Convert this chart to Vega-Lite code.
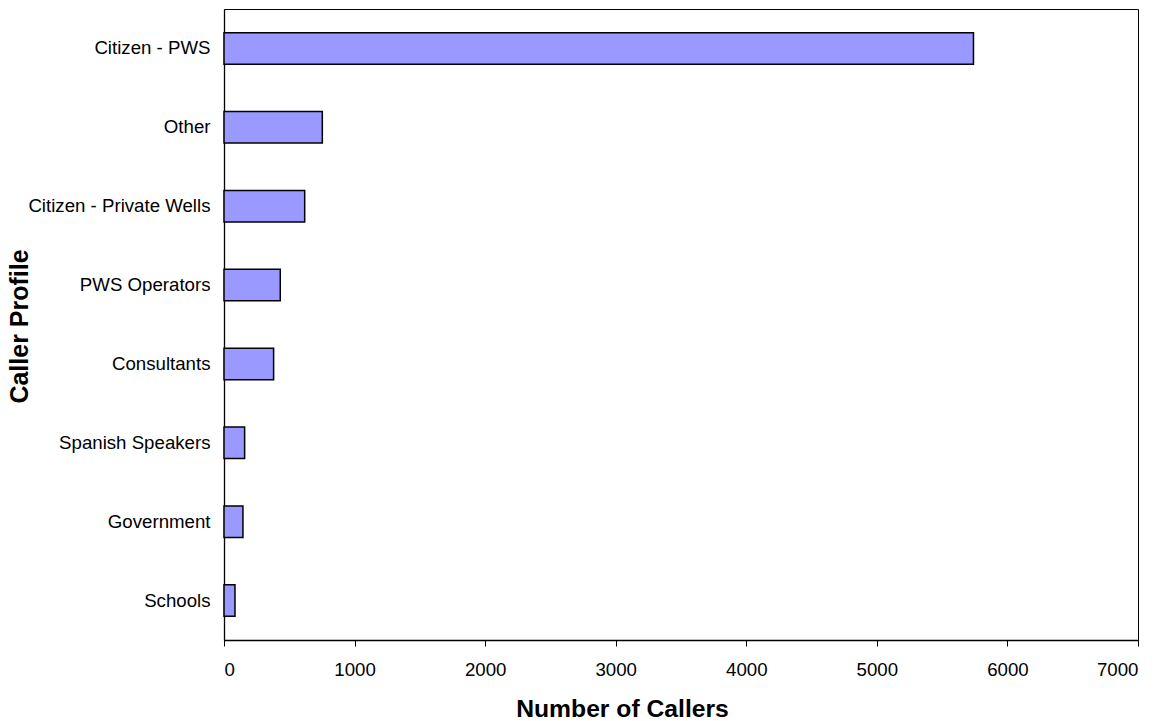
{
  "$schema": "https://vega.github.io/schema/vega-lite/v6.json",
  "width": 914,
  "height": 631,
  "autosize": {"type": "none"},
  "padding": {"left": 224, "top": 9, "right": 22, "bottom": 81},
  "background": "white",
  "config": {
    "font": "Liberation Sans",
    "view": {"stroke": "black", "strokeWidth": 1}
  },
  "data": {
    "values": [
      {"profile": "Citizen - PWS", "callers": 5740},
      {"profile": "Other", "callers": 753},
      {"profile": "Citizen - Private Wells", "callers": 618},
      {"profile": "PWS Operators", "callers": 431},
      {"profile": "Consultants", "callers": 380},
      {"profile": "Spanish Speakers", "callers": 158},
      {"profile": "Government", "callers": 145},
      {"profile": "Schools", "callers": 84}
    ]
  },
  "mark": {"type": "bar", "fill": "#9999FF", "stroke": "black", "strokeWidth": 1.5},
  "encoding": {
    "y": {
      "field": "profile",
      "type": "nominal",
      "sort": null,
      "scale": {"paddingInner": 0.6, "paddingOuter": 0.3},
      "axis": {
        "title": "Caller Profile",
        "titleFont": "Liberation Sans",
        "titleFontSize": 25,
        "titleFontWeight": "bold",
        "titleColor": "black",
        "titleAngle": -90,
        "titleAlign": "center",
        "titleBaseline": "alphabetic",
        "titleX": -197,
        "titleY": 317,
        "labelFontSize": 18.67,
        "labelColor": "black",
        "labelPadding": 14,
        "labelLimit": 400,
        "ticks": false,
        "domainColor": "black",
        "domainWidth": 1.3
      }
    },
    "x": {
      "field": "callers",
      "type": "quantitative",
      "scale": {"domain": [0, 7000], "nice": false},
      "axis": {
        "title": "Number of Callers",
        "titleFont": "Liberation Sans",
        "titleFontSize": 24.7,
        "titleFontWeight": "bold",
        "titleColor": "black",
        "titleAlign": "center",
        "titleBaseline": "alphabetic",
        "titleX": 398,
        "titleY": 76,
        "values": [0, 1000, 2000, 3000, 4000, 5000, 6000, 7000],
        "format": "d",
        "grid": false,
        "labelFontSize": 18.67,
        "labelColor": "black",
        "labelPadding": 14,
        "tickSize": 6,
        "tickColor": "black",
        "domainColor": "black",
        "domainWidth": 1.3
      }
    }
  }
}
